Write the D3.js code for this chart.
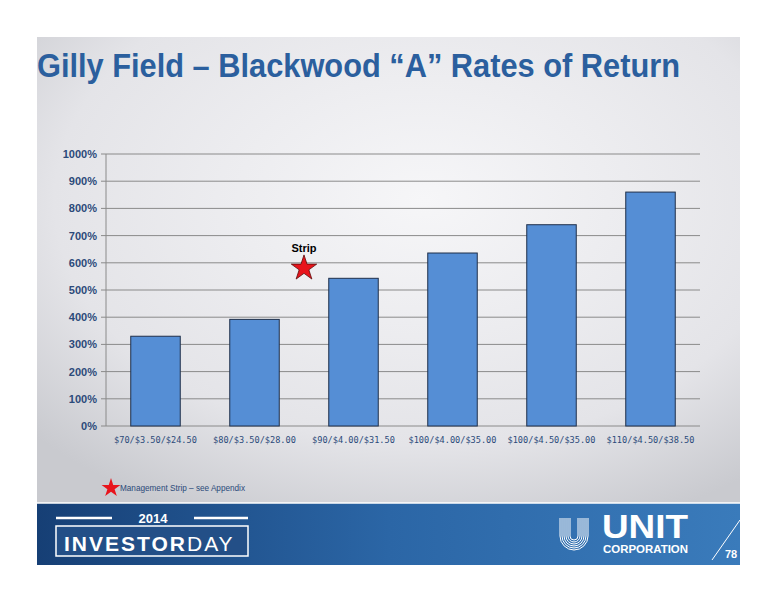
<!DOCTYPE html>
<html><head><meta charset="utf-8">
<script src="https://cdn.jsdelivr.net/npm/d3@7"></script>
<style>body{margin:0;background:#fff}svg{display:block}</style>
</head><body>
<script>
const categories = ["$70/$3.50/$24.50","$80/$3.50/$28.00","$90/$4.00/$31.50","$100/$4.00/$35.00","$100/$4.50/$35.00","$110/$4.50/$38.50"];
const values = [330, 392, 543, 636, 740, 860];
const yTicks = [0,100,200,300,400,500,600,700,800,900,1000];
const stripValue = 580;
const stripBetween = [1, 2];

const W=776,H=600;
const svg=d3.select("body").append("svg").attr("width",W).attr("height",H);
const defs=svg.append("defs");
const g1=defs.append("radialGradient").attr("id","bg").attr("cx","55%").attr("cy","35%").attr("r","75%");
g1.append("stop").attr("offset","0%").attr("stop-color","#f6f6f8");
g1.append("stop").attr("offset","70%").attr("stop-color","#e4e4e8");
g1.append("stop").attr("offset","100%").attr("stop-color","#c9cacf");
const g2=defs.append("linearGradient").attr("id","ban");
g2.append("stop").attr("offset","0%").attr("stop-color","#163f75");
g2.append("stop").attr("offset","50%").attr("stop-color","#2b66a6");
g2.append("stop").attr("offset","100%").attr("stop-color","#3a7bbb");
svg.append("rect").attr("x",37).attr("y",37).attr("width",703).attr("height",466).attr("fill","url(#bg)");
svg.append("rect").attr("x",37).attr("y",503).attr("width",703).attr("height",62).attr("fill","url(#ban)");
svg.append("line").attr("x1",37).attr("x2",740).attr("y1",503).attr("y2",503).attr("stroke","#fff").attr("stroke-width",1.5);

svg.append("text").attr("x",37).attr("y",77).text("Gilly Field – Blackwood “A” Rates of Return")
 .attr("font-family","Liberation Sans Narrow, Arial Narrow, sans-serif").attr("font-weight","bold")
 .attr("font-size",34).attr("fill","#2b5f9e").attr("textLength",643).attr("lengthAdjust","spacingAndGlyphs");

const x=d3.scaleBand().domain(categories).range([106,700]).paddingInner(0.5).paddingOuter(0.25);
const y=d3.scaleLinear().domain([0,1000]).range([426,154]);

const grid=svg.append("g");
grid.selectAll("line").data(yTicks).join("line").attr("x1",101).attr("x2",700)
 .attr("y1",d=>y(d)).attr("y2",d=>y(d)).attr("stroke","#8a8a8a").attr("stroke-width",1);
svg.append("line").attr("x1",106).attr("x2",106).attr("y1",154).attr("y2",426).attr("stroke","#8a8a8a");
svg.append("g").selectAll("text").data(yTicks).join("text").attr("x",97).attr("y",d=>y(d)+4)
 .attr("text-anchor","end").attr("font-family","Liberation Sans, Arial, sans-serif").attr("font-weight","bold")
 .attr("font-size",11).attr("fill","#2b4a7a").text(d=>d+"%");

svg.append("g").selectAll("rect").data(values).join("rect")
 .attr("x",(d,i)=>x(categories[i])).attr("width",x.bandwidth())
 .attr("y",d=>y(d)).attr("height",d=>y(0)-y(d))
 .attr("fill","#558ed5").attr("stroke","#1f2f4a").attr("stroke-width",1);

svg.append("g").selectAll("text").data(categories).join("text")
 .attr("x",d=>x(d)+x.bandwidth()/2).attr("y",443).attr("text-anchor","middle")
 .attr("font-family","DejaVu Sans Mono, monospace").attr("font-size",8.6).attr("fill","#2b4a7a").text(d=>d);

const sx=(x(categories[stripBetween[0]])+x(categories[stripBetween[1]]))/2+x.bandwidth()/2;
const star=d3.symbol().type(d3.symbolStar).size(200);
svg.append("path").attr("d",star()).attr("transform",`translate(${sx},${y(stripValue)})`)
 .attr("fill","#e8141c").attr("stroke","#5a0a0a").attr("stroke-width",0.8);
svg.append("text").attr("x",sx).attr("y",y(stripValue)-16).attr("text-anchor","middle")
 .attr("font-family","Liberation Sans, Arial, sans-serif").attr("font-weight","bold").attr("font-size",11).text("Strip");

svg.append("path").attr("d",d3.symbol().type(d3.symbolStar).size(110)()).attr("transform","translate(111,488)").attr("fill","#e8141c");
svg.append("text").attr("x",120).attr("y",491).attr("font-family","Liberation Sans Narrow, sans-serif").attr("font-size",9)
 .attr("fill","#2b4a7a").attr("textLength",125).attr("lengthAdjust","spacingAndGlyphs").text("Management Strip – see Appendix");

// Investor Day logo
const lg=svg.append("g");
lg.append("rect").attr("x",56).attr("y",526).attr("width",192).attr("height",30).attr("fill","#234f87").attr("stroke","#fff").attr("stroke-width",1.5);
lg.append("line").attr("x1",56).attr("x2",112).attr("y1",518).attr("y2",518).attr("stroke","#fff").attr("stroke-width",2.5);
lg.append("line").attr("x1",194).attr("x2",248).attr("y1",518).attr("y2",518).attr("stroke","#fff").attr("stroke-width",2.5);
lg.append("text").attr("x",153).attr("y",523).attr("text-anchor","middle").attr("fill","#fff").attr("font-family","Liberation Sans, sans-serif").attr("font-weight","bold").attr("font-size",13).text("2014");
const t=lg.append("text").attr("x",64).attr("y",551).attr("fill","#fff").attr("font-family","Liberation Sans, sans-serif").attr("font-size",21).attr("letter-spacing",2);
t.append("tspan").attr("font-weight","bold").text("INVESTOR");
t.append("tspan").attr("font-weight","normal").text("DAY");

// Unit logo
const ul=svg.append("g");
for(let k=0;k<6;k++){ul.append("path").attr("d",`M${560+k*2},518 v18 a${14-k*2},${14-k*2} 0 0 0 ${28-k*4},0 v-18`).attr("fill","none").attr("stroke","#fff").attr("stroke-width",1);}
ul.append("text").attr("x",602).attr("y",538).attr("fill","#fff").attr("font-family","Liberation Sans Narrow, sans-serif").attr("font-weight","bold").attr("font-size",34).attr("textLength",86).attr("lengthAdjust","spacingAndGlyphs").text("UNIT");
ul.append("text").attr("x",603).attr("y",553).attr("fill","#fff").attr("font-family","Liberation Sans, sans-serif").attr("font-weight","bold").attr("font-size",10).attr("textLength",85).attr("lengthAdjust","spacingAndGlyphs").text("CORPORATION");
svg.append("line").attr("x1",712).attr("y1",560).attr("x2",740).attr("y2",520).attr("stroke","#fff").attr("stroke-width",1);
svg.append("text").attr("x",725).attr("y",558).attr("fill","#fff").attr("font-family","Liberation Sans Narrow, sans-serif").attr("font-weight","bold").attr("font-size",11).text("78");
</script>
</body></html>
